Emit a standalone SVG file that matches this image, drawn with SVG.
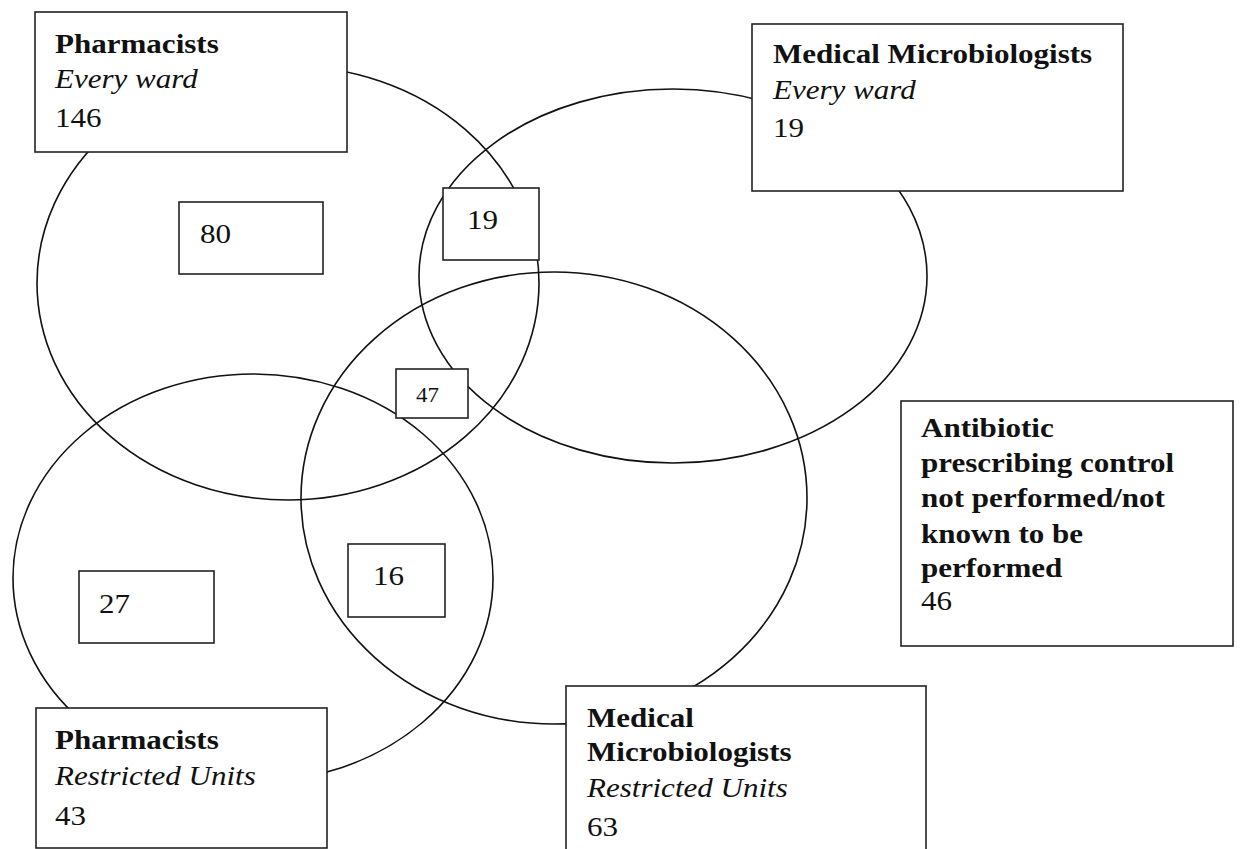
<svg xmlns="http://www.w3.org/2000/svg" width="1241" height="849" viewBox="0 0 1241 849">
<style>
.set{fill:none;stroke:#111;stroke-width:1.6}
.box{fill:#fff;stroke:#222;stroke-width:1.6}
text{font-family:"Liberation Serif","Times New Roman",serif;font-size:27px;fill:#111}
.b{font-weight:bold}
.i{font-style:italic}
.sm{font-size:20px}
</style>
<rect width="1241" height="849" fill="#fff"/>
<g id="sets">
<ellipse class="set" cx="288" cy="283" rx="251" ry="217"/>
<ellipse class="set" cx="673" cy="276" rx="254" ry="187"/>
<ellipse class="set" cx="554" cy="498" rx="253" ry="226"/>
<ellipse class="set" cx="253" cy="578" rx="240" ry="204"/>
</g>
<g id="pharm-every">
<rect class="box" x="35" y="12" width="312" height="140"/>
<text class="b" transform="translate(55,53) scale(1.15,1)">Pharmacists</text>
<text class="i" transform="translate(55,88) scale(1.15,1)">Every ward</text>
<text transform="translate(55,127) scale(1.15,1)">146</text>
</g>
<g id="micro-every">
<rect class="box" x="752" y="24" width="371" height="167"/>
<text class="b" transform="translate(773,63) scale(1.15,1)">Medical Microbiologists</text>
<text class="i" transform="translate(773,99) scale(1.15,1)">Every ward</text>
<text transform="translate(773,137) scale(1.15,1)">19</text>
</g>
<g id="n80">
<rect class="box" x="179" y="202" width="144" height="72"/>
<text transform="translate(200,243) scale(1.15,1)">80</text>
</g>
<g id="n19">
<rect class="box" x="443" y="188" width="96" height="72"/>
<text transform="translate(467,229) scale(1.15,1)">19</text>
</g>
<g id="n47">
<rect class="box" x="396" y="369" width="72" height="49"/>
<text class="sm" transform="translate(416,402) scale(1.15,1)">47</text>
</g>
<g id="n16">
<rect class="box" x="348" y="544" width="97" height="73"/>
<text transform="translate(373,585) scale(1.15,1)">16</text>
</g>
<g id="n27">
<rect class="box" x="79" y="571" width="135" height="72"/>
<text transform="translate(99,613) scale(1.15,1)">27</text>
</g>
<g id="pharm-restricted">
<rect class="box" x="36" y="708" width="291" height="140"/>
<text class="b" transform="translate(55,749) scale(1.15,1)">Pharmacists</text>
<text class="i" transform="translate(55,785) scale(1.15,1)">Restricted Units</text>
<text transform="translate(55,825) scale(1.15,1)">43</text>
</g>
<g id="micro-restricted">
<rect class="box" x="566" y="686" width="360" height="180"/>
<text class="b" transform="translate(587,727) scale(1.15,1)">Medical</text>
<text class="b" transform="translate(587,761) scale(1.15,1)">Microbiologists</text>
<text class="i" transform="translate(587,797) scale(1.15,1)">Restricted Units</text>
<text transform="translate(587,836) scale(1.15,1)">63</text>
</g>
<g id="not-performed">
<rect class="box" x="901" y="401" width="332" height="245"/>
<text class="b" transform="translate(921,437) scale(1.15,1)">Antibiotic</text>
<text class="b" transform="translate(921,472) scale(1.15,1)">prescribing control</text>
<text class="b" transform="translate(921,507) scale(1.15,1)">not performed/not</text>
<text class="b" transform="translate(921,543) scale(1.15,1)">known to be</text>
<text class="b" transform="translate(921,577) scale(1.15,1)">performed</text>
<text transform="translate(921,610) scale(1.15,1)">46</text>
</g>
</svg>
